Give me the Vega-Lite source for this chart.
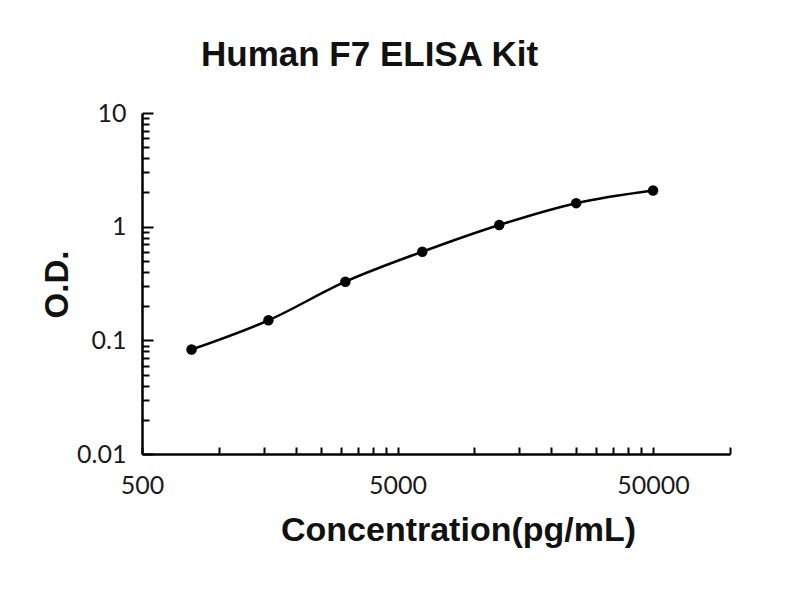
{
  "$schema": "https://vega.github.io/schema/vega-lite/v6.json",
  "width": 588,
  "height": 341,
  "autosize": {"type": "none"},
  "padding": {"left": 142, "top": 113, "right": 70, "bottom": 146},
  "background": "white",
  "config": {"view": {"stroke": null}},
  "title": {
    "text": "Human F7 ELISA Kit",
    "font": "Liberation Sans",
    "fontWeight": "bold",
    "fontSize": 35,
    "color": "#111111",
    "anchor": "start",
    "frame": "group",
    "dx": 59,
    "offset": 28
  },
  "data": {
    "values": [
      {"conc": 781.25, "od": 0.083},
      {"conc": 1562.5, "od": 0.150},
      {"conc": 3125, "od": 0.328},
      {"conc": 6250, "od": 0.602},
      {"conc": 12500, "od": 1.035},
      {"conc": 25000, "od": 1.61},
      {"conc": 50000, "od": 2.08}
    ]
  },
  "encoding": {
    "x": {
      "field": "conc",
      "type": "quantitative",
      "scale": {"type": "log", "domain": [500, 100000], "nice": false},
      "axis": {
        "title": "Concentration(pg/mL)",
        "titleFont": "Liberation Sans",
        "titleFontWeight": "bold",
        "titleFontSize": 34,
        "titleColor": "#111111",
        "titleX": 316,
        "titleY": 86,
        "titleAlign": "center",
        "titleBaseline": "alphabetic",
        "values": [500, 1000, 1500, 2000, 2500, 3000, 3500, 4000, 4500, 5000, 10000, 15000, 20000, 25000, 30000, 35000, 40000, 45000, 50000, 100000],
        "format": "d",
        "labelExpr": "indexof([500, 5000, 50000], datum.value) >= 0 ? datum.label : ''",
        "labelOverlap": false,
        "labelFont": "Lato",
        "labelFontSize": 25,
        "labelColor": "#1a1a1a",
        "labelBaseline": "alphabetic",
        "labelPadding": 46,
        "labelFlush": false,
        "grid": false,
        "domainColor": "#000000",
        "domainWidth": 2.5,
        "tickColor": "#000000",
        "tickWidth": 2,
        "tickSize": -7
      }
    },
    "y": {
      "field": "od",
      "type": "quantitative",
      "scale": {"type": "log", "domain": [0.01, 10], "nice": false},
      "axis": {
        "title": "O.D.",
        "titleFont": "Liberation Sans",
        "titleFontWeight": "bold",
        "titleFontSize": 33,
        "titleColor": "#111111",
        "titleX": -85,
        "titleY": 171,
        "titleAngle": -90,
        "titleAlign": "center",
        "titleBaseline": "middle",
        "values": [0.01, 0.02, 0.03, 0.04, 0.05, 0.06, 0.07, 0.08, 0.09, 0.1, 0.2, 0.3, 0.4, 0.5, 0.6, 0.7, 0.8, 0.9, 1, 2, 3, 4, 5, 6, 7, 8, 9, 10],
        "format": ".2~f",
        "labelExpr": "indexof([0.01, 0.1, 1, 10], datum.value) >= 0 ? datum.label : ''",
        "labelOverlap": false,
        "labelFont": "Lato",
        "labelFontSize": 25,
        "labelColor": "#1a1a1a",
        "labelPadding": 27,
        "labelFlush": false,
        "grid": false,
        "domainColor": "#000000",
        "domainWidth": 2.5,
        "tickColor": "#000000",
        "tickWidth": 2,
        "tickSize": {"condition": {"test": "indexof([0.01, 0.1, 1, 10], datum.value) >= 0", "value": -11}, "value": -7}
      }
    }
  },
  "layer": [
    {"mark": {"type": "line", "interpolate": "monotone", "color": "#000000", "strokeWidth": 2.5}},
    {"mark": {"type": "point", "filled": true, "color": "#000000", "size": 110, "opacity": 1}}
  ]
}
